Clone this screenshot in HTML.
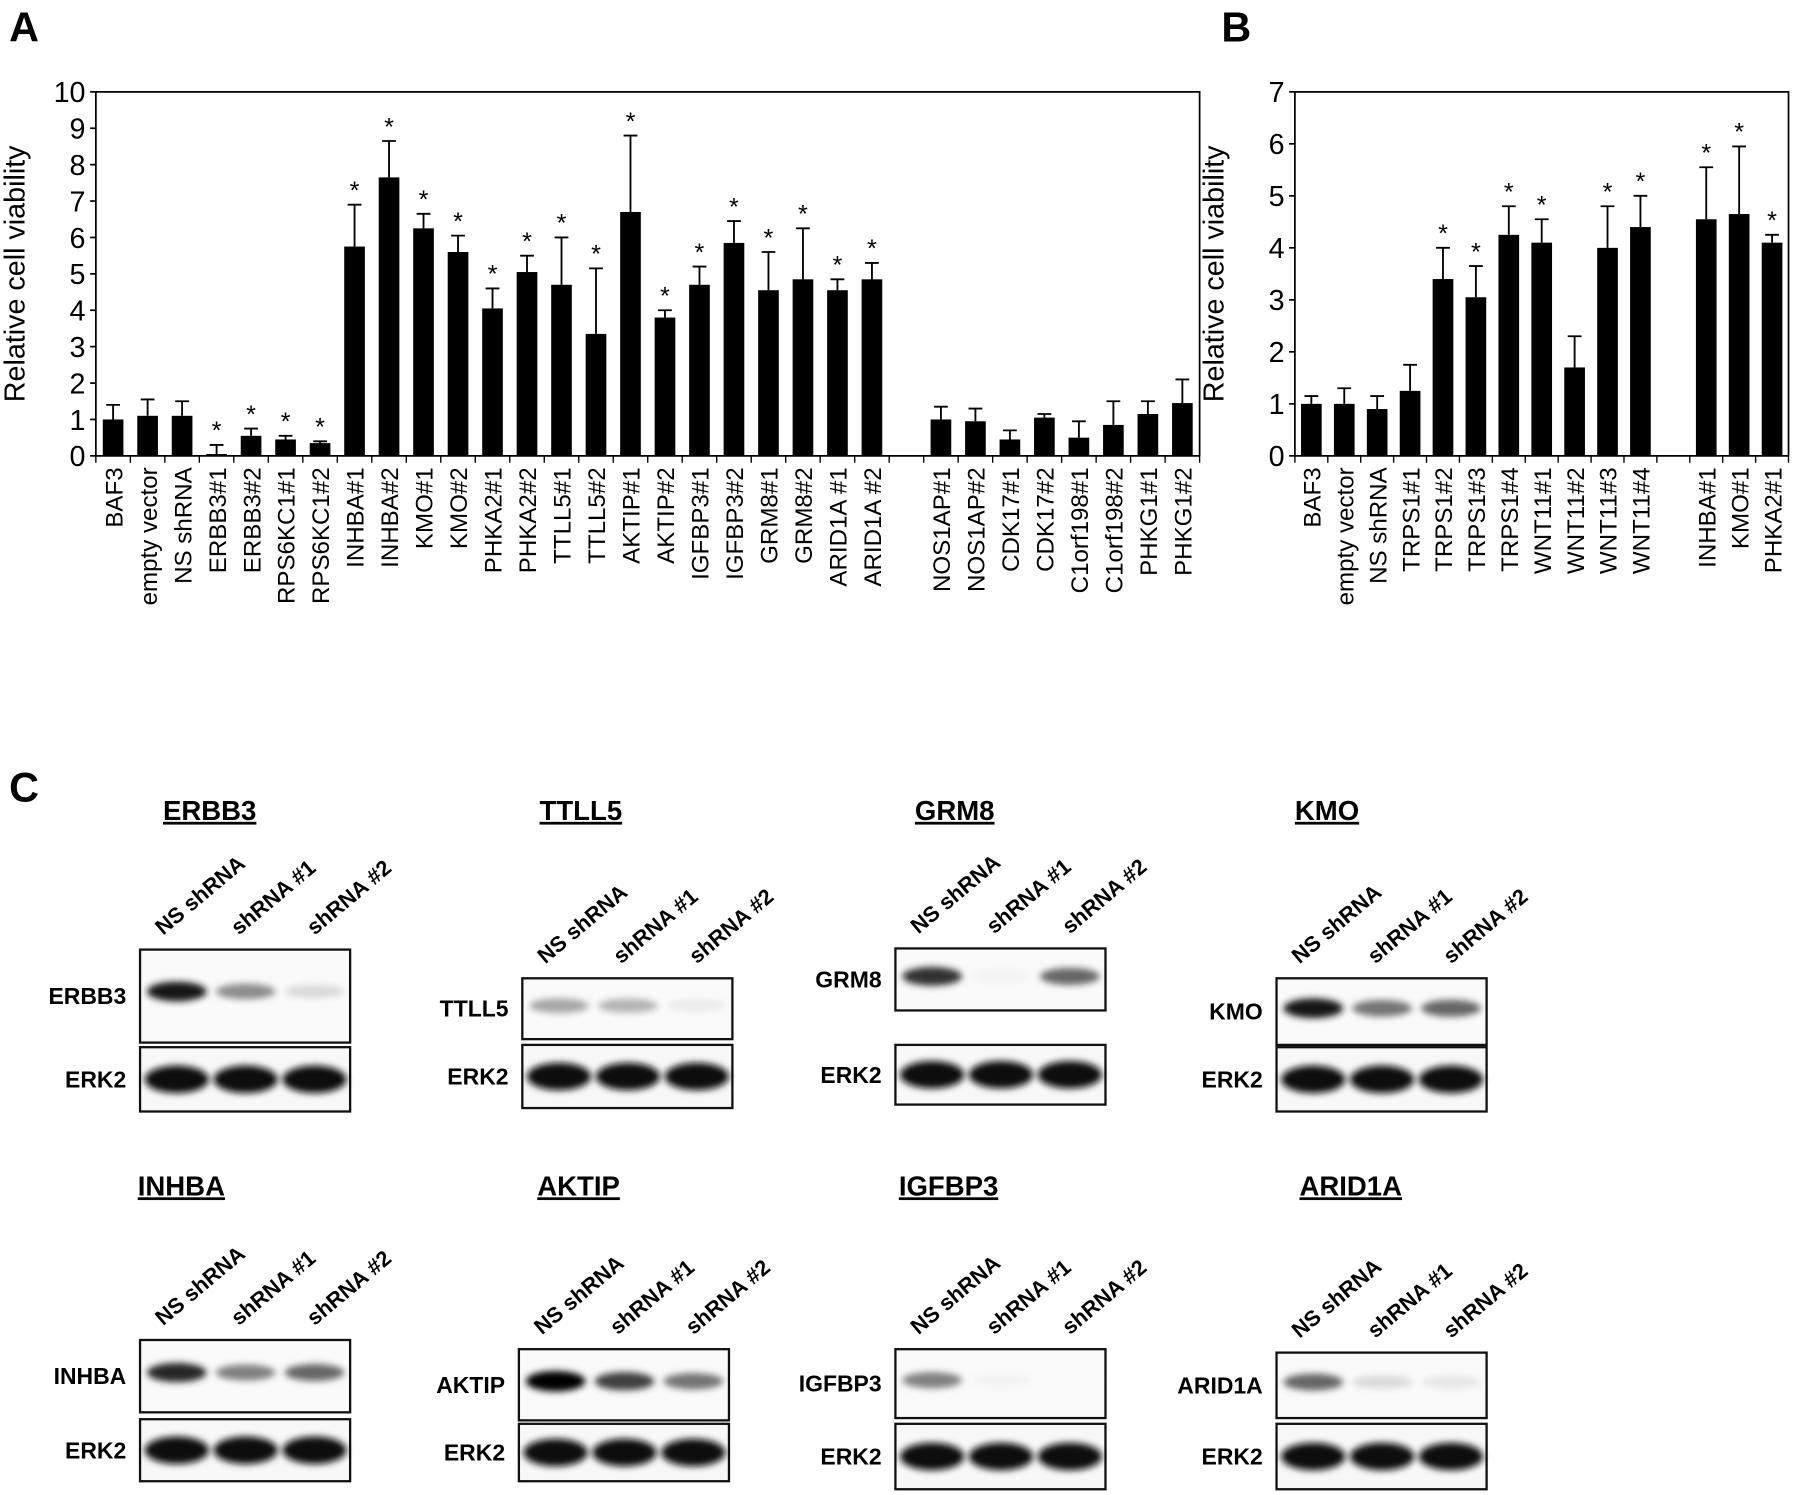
<!DOCTYPE html>
<html><head><meta charset="utf-8"><style>
html,body{margin:0;padding:0;background:#fff}
svg{display:block}
text{font-family:"Liberation Sans",Arial,sans-serif}
</style></head><body>
<svg id="fig" width="1800" height="1495" viewBox="0 0 1568 1302" preserveAspectRatio="none">
<defs>
<filter id="bl" x="-30%" y="-100%" width="160%" height="300%"><feGaussianBlur stdDeviation="3"/></filter>
</defs>
<text x="8" y="36" font-size="36" font-weight="bold">A</text>
<text x="1064" y="36" font-size="36" font-weight="bold">B</text>
<text x="8" y="698" font-size="36" font-weight="bold">C</text>
<g id="chartA"></g>
<g id="chartB"></g>
<g id="blots"></g>
</svg>
<script>
const NS='http://www.w3.org/2000/svg';
const catsA=['BAF3','empty vector','NS shRNA','ERBB3#1','ERBB3#2','RPS6KC1#1','RPS6KC1#2','INHBA#1','INHBA#2','KMO#1','KMO#2','PHKA2#1','PHKA2#2','TTLL5#1','TTLL5#2','AKTIP#1','AKTIP#2','IGFBP3#1','IGFBP3#2','GRM8#1','GRM8#2','ARID1A #1','ARID1A #2','','NOS1AP#1','NOS1AP#2','CDK17#1','CDK17#2','C1orf198#1','C1orf198#2','PHKG1#1','PHKG1#2'];
const valsA=[1.0,1.1,1.1,0.05,0.55,0.45,0.35,5.75,7.65,6.25,5.6,4.05,5.05,4.7,3.35,6.7,3.8,4.7,5.85,4.55,4.85,4.55,4.85,null,1.0,0.95,0.45,1.05,0.5,0.85,1.15,1.45];
const errA=[0.4,0.45,0.4,0.25,0.2,0.1,0.05,1.15,1.0,0.4,0.45,0.55,0.45,1.3,1.8,2.1,0.2,0.5,0.6,1.05,1.4,0.3,0.45,null,0.35,0.35,0.25,0.1,0.45,0.65,0.35,0.65];
const sigA=[0,0,0,1,1,1,1,1,1,1,1,1,1,1,1,1,1,1,1,1,1,1,1,0,0,0,0,0,0,0,0,0];
const ticksA=[0,1,2,3,4,5,6,7,8,9,10];
const catsB=['BAF3','empty vector','NS shRNA','TRPS1#1','TRPS1#2','TRPS1#3','TRPS1#4','WNT11#1','WNT11#2','WNT11#3','WNT11#4','','INHBA#1','KMO#1','PHKA2#1'];
const valsB=[1.0,1.0,0.9,1.25,3.4,3.05,4.25,4.1,1.7,4.0,4.4,null,4.55,4.65,4.1];
const errB=[0.15,0.3,0.25,0.5,0.6,0.6,0.55,0.45,0.6,0.8,0.6,null,1.0,1.3,0.15];
const sigB=[0,0,0,0,1,1,1,1,0,1,1,0,1,1,1];
const ticksB=[0,1,2,3,4,5,6,7];

function el(p,tag,a,txt){const e=document.createElementNS(NS,tag);for(const k in a)e.setAttribute(k,a[k]);if(txt!==undefined)e.textContent=txt;p.appendChild(e);return e;}

function chart(g,cats,vals,errs,sigs,ticks,x0,x1,y0,y1,ymax,bw,name){
  const ys=v=>y0-(v/ymax)*(y0-y1);
  const step=(x1-x0)/cats.length;
  const xs=i=>x0+step*(i+0.5);
  const fr=el(g,'path',{d:`M${x0} ${y1}H${x1}V${y0}M${x0} ${y1}V${y0}H${x1}`,stroke:'#000','stroke-width':1.5,fill:'none'});
  
  
  ticks.forEach(t=>{
    el(g,'line',{x1:x0-5,x2:x0,y1:ys(t),y2:ys(t),stroke:'#000','stroke-width':1.5});
    const tx=el(g,'text',{x:x0-9,y:ys(t)+9,'font-size':25,'text-anchor':'end'},t);
    
    
  });
  for(let i=0;i<=cats.length;i++){el(g,'line',{x1:x0+step*i,x2:x0+step*i,y1:y0,y2:y0+6,stroke:'#000','stroke-width':1.2});}
  cats.forEach((c,i)=>{
    if(vals[i]===null)return;
    const x=xs(i),v=vals[i],e=errs[i];
    const r=el(g,'rect',{x:x-bw/2,y:ys(v),width:bw,height:y0-ys(v),fill:'#000'});
    
    
    el(g,'path',{d:`M${x} ${ys(v)}V${ys(v+e)}M${x-6} ${ys(v+e)}H${x+6}`,stroke:'#000','stroke-width':1.6,fill:'none'});
    if(sigs[i]){const s=el(g,'text',{x:x,y:ys(v+e)-5,'font-size':22,'text-anchor':'middle'},'*');
      
      }
    const t=el(g,'text',{transform:`translate(${x+8},${y0+10}) rotate(-90)`,'font-size':21,'text-anchor':'end'},c);
    
    
  });
  const yt=el(g,'text',{transform:`translate(${x0-62},${(y0+y1)/2}) rotate(-90)`,'font-size':25,'text-anchor':'middle'},'Relative cell viability');
  
  
}
chart(document.getElementById('chartA'),catsA,valsA,errA,sigA,ticksA,83.5,1045,397,80,10,18,'chart-a');
chart(document.getElementById('chartB'),catsB,valsB,errB,sigB,ticksB,1128,1558,397,80,7,18,'chart-b');

const blots=[
 ['ERBB3',142,714,'ERBB3',122,827,81,912,56,[0.9,0.45,0.15]],
 ['TTLL5',470,714,'TTLL5',455,852,53,910,55,[0.35,0.3,0.08]],
 ['GRM8',797,714,'GRM8',780,826,54,910,52,[0.8,0.05,0.6]],
 ['KMO',1128,714,'KMO',1112,852,58,912,56,[0.9,0.55,0.6]],
 ['INHBA',120,1041,'INHBA',122,1167,63,1236,54,[0.85,0.5,0.6]],
 ['AKTIP',468,1041,'AKTIP',452,1175,62,1240,50,[1,0.75,0.55]],
 ['IGFBP3',783,1041,'IGFBP3',780,1175,60,1240,57,[0.5,0.05,0.02]],
 ['ARID1A',1132,1041,'ARID1A',1112,1178,57,1240,57,[0.6,0.15,0.1]]
];
const B=document.getElementById('blots');
blots.forEach(b=>{
  const [title,tx,ty,prot,bx,ty1,th,ey,eh,ints]=b;
  const w=183;
  const t=el(B,'text',{x:tx,y:ty,'font-size':24,'font-weight':'bold','text-decoration':'underline'},title);
  
  
  ['NS shRNA','shRNA  #1','shRNA  #2'].forEach((l,i)=>{
    const lt=el(B,'text',{transform:`translate(${bx+20+i*66},${ty1-12}) rotate(-40)`,'font-size':19,'font-weight':'bold'},l);
    
    
  });
  el(B,'rect',{x:bx,y:ty1,width:w,height:th,fill:'#fafafa',stroke:'#111','stroke-width':2});
  el(B,'rect',{x:bx,y:ey,width:w,height:eh,fill:'#f8f8f8',stroke:'#111','stroke-width':2});
  ints.forEach((v,i)=>{
    const cx=bx+32+i*60;
    const g=Math.round(255*(1-v));
    el(B,'ellipse',{cx:cx,cy:ty1+th*0.45,rx:26,ry:5+v*4,fill:`rgb(${g},${g},${g})`,filter:'url(#bl)'});
    el(B,'ellipse',{cx:cx,cy:ey+eh/2,rx:28,ry:12,fill:'#111',filter:'url(#bl)'});
  });
  const p=el(B,'text',{x:bx-12,y:ty1+th/2+7,'font-size':20,'font-weight':'bold','text-anchor':'end'},prot);
  
  
  const e=el(B,'text',{x:bx-12,y:ey+eh/2+7,'font-size':20,'font-weight':'bold','text-anchor':'end'},'ERK2');
  
  
});
</script>
</body></html>
